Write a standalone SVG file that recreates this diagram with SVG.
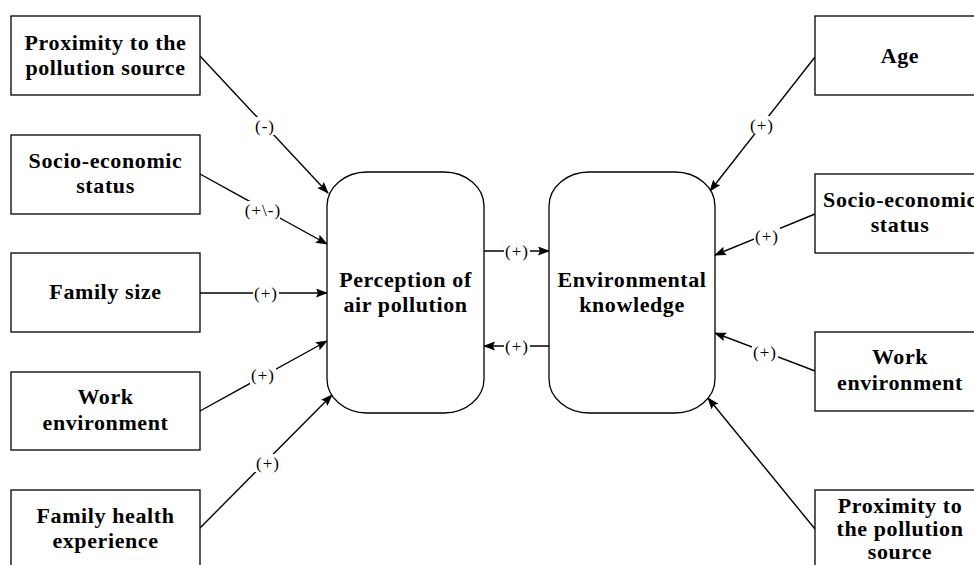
<svg xmlns="http://www.w3.org/2000/svg" width="974" height="565" viewBox="0 0 974 565">
<style>
.box{fill:#fff;stroke:#000;stroke-width:1.3}
.t{font-family:"Liberation Serif","Times New Roman",serif;font-weight:bold;font-size:22px;letter-spacing:0.6px;text-anchor:middle;fill:#000}
.e{stroke:#000;stroke-width:1.4;fill:none;marker-end:url(#ah)}
.bg{fill:#fff;stroke:none}
.lb{font-family:"Liberation Serif","Times New Roman",serif;font-size:17px;letter-spacing:1px;text-anchor:middle;dominant-baseline:central;fill:#000}
</style>
<defs>
<marker id="ah" markerUnits="userSpaceOnUse" markerWidth="12" markerHeight="10" refX="11" refY="4.5" orient="auto">
<path d="M0,0 L12,4.5 L0,9 L2,4.5 Z" fill="#000"/>
</marker>
</defs>
<rect width="974" height="565" fill="#fff"/>
<g id="connectors">
<line class="e" x1="200" y1="56" x2="328" y2="193"/>
<line class="e" x1="200" y1="174" x2="327" y2="244"/>
<line class="e" x1="200" y1="293" x2="327" y2="293"/>
<line class="e" x1="200" y1="411" x2="327" y2="341"/>
<line class="e" x1="200" y1="528" x2="332" y2="395"/>
<line class="e" x1="484" y1="251" x2="549" y2="251"/>
<line class="e" x1="549" y1="346" x2="484" y2="346"/>
<line class="e" x1="815" y1="57" x2="710" y2="191"/>
<line class="e" x1="815" y1="214" x2="715" y2="255"/>
<line class="e" x1="815" y1="371" x2="715" y2="333"/>
<line class="e" x1="815" y1="529" x2="708" y2="398"/>
<rect class="bg" x="255" y="117" width="20" height="18"/>
<rect class="bg" x="246" y="201" width="34" height="18"/>
<rect class="bg" x="253" y="284" width="26" height="18"/>
<rect class="bg" x="250" y="366" width="26" height="18"/>
<rect class="bg" x="255" y="454" width="26" height="18"/>
<rect class="bg" x="504" y="242" width="26" height="18"/>
<rect class="bg" x="504" y="337" width="26" height="18"/>
<rect class="bg" x="749" y="116" width="26" height="18"/>
<rect class="bg" x="754" y="227" width="26" height="18"/>
<rect class="bg" x="752" y="343" width="26" height="18"/>
<text class="lb" x="265" y="126">(-)</text>
<text class="lb" x="263" y="210">(+\-)</text>
<text class="lb" x="266" y="293">(+)</text>
<text class="lb" x="263" y="375">(+)</text>
<text class="lb" x="268" y="463">(+)</text>
<text class="lb" x="517" y="251">(+)</text>
<text class="lb" x="517" y="346">(+)</text>
<text class="lb" x="762" y="125">(+)</text>
<text class="lb" x="767" y="236">(+)</text>
<text class="lb" x="765" y="352">(+)</text>
</g>
<g id="n_prox_l"><rect class="box" x="11" y="16" width="189" height="79"/><text class="t" x="105.5" y="50">Proximity to the</text><text class="t" x="105.5" y="75">pollution source</text></g>
<g id="n_socio_l"><rect class="box" x="11" y="135" width="189" height="79"/><text class="t" x="105.5" y="168">Socio-economic</text><text class="t" x="105.5" y="193">status</text></g>
<g id="n_family_size"><rect class="box" x="11" y="253" width="189" height="79"/><text class="t" x="105.5" y="299">Family size</text></g>
<g id="n_work_l"><rect class="box" x="11" y="372" width="189" height="78"/><text class="t" x="105.5" y="404">Work</text><text class="t" x="105.5" y="430">environment</text></g>
<g id="n_health"><rect class="box" x="11" y="490" width="189" height="90"/><text class="t" x="105.5" y="523">Family health</text><text class="t" x="105.5" y="548">experience</text></g>
<g id="n_perception"><rect class="box" x="327" y="172" width="157" height="241" rx="40" ry="34"/><text class="t" x="405.5" y="287">Perception of</text><text class="t" x="405.5" y="312">air pollution</text></g>
<g id="n_knowledge"><rect class="box" x="549" y="172" width="166" height="241" rx="40" ry="34"/><text class="t" x="632" y="287">Environmental</text><text class="t" x="632" y="312">knowledge</text></g>
<g id="n_age"><rect class="box" x="815" y="16" width="170" height="79"/><text class="t" x="900" y="63">Age</text></g>
<g id="n_socio_r"><rect class="box" x="815" y="174" width="170" height="79"/><text class="t" x="900" y="207">Socio-economic</text><text class="t" x="900" y="232">status</text></g>
<g id="n_work_r"><rect class="box" x="815" y="332" width="170" height="79"/><text class="t" x="900" y="364">Work</text><text class="t" x="900" y="390">environment</text></g>
<g id="n_prox_r"><rect class="box" x="815" y="490" width="170" height="90"/><text class="t" x="900" y="513">Proximity to</text><text class="t" x="900" y="536">the pollution</text><text class="t" x="900" y="559">source</text></g>
</svg>
